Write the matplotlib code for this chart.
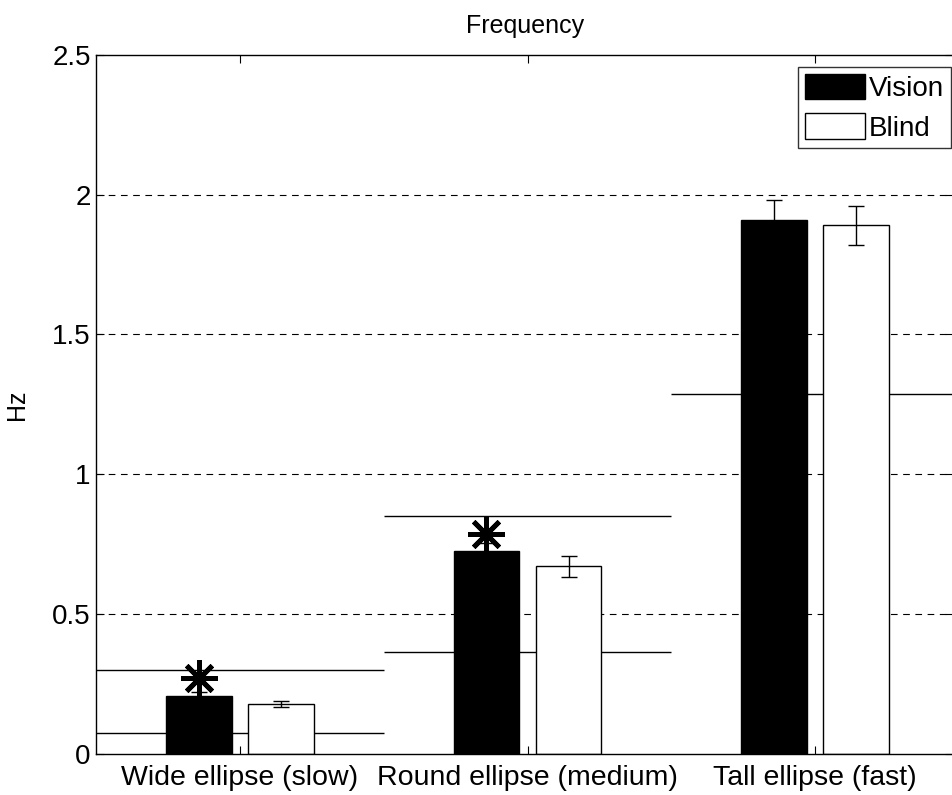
import numpy as np
import matplotlib.pyplot as plt

plt.rcParams['font.family'] = ['Liberation Sans', 'DejaVu Sans']

# data
conditions = ['Wide ellipse (slow)', 'Round ellipse (medium)', 'Tall ellipse (fast)']
vision = [0.205, 0.725, 1.91]
vision_err = [0.015, 0.03, 0.07]
blind = [0.178, 0.67, 1.89]
blind_err = [0.012, 0.037, 0.07]
# target frequency bands drawn across each group (lower, upper)
band_low = [0.075, 0.365, 1.285]
band_high = [0.30, 0.85, None]
signif_y = [0.27, 0.785, None]

x = np.arange(1, len(conditions) + 1)
w = 0.228
off = 0.143

fig = plt.figure(figsize=(9.53, 7.95), dpi=100)
ax = fig.add_axes([0.101, 0.052, 0.899, 0.879])

for v in [0.5, 1.0, 1.5, 2.0]:
    ax.axhline(v, color='black', lw=0.8, ls=(0, (6, 5)), zorder=0)

for i, xi in enumerate(x):
    ax.hlines(band_low[i], xi - 0.5, xi + 0.5, color='black', lw=1.0, zorder=0.5)
    if band_high[i] is not None:
        ax.hlines(band_high[i], xi - 0.5, xi + 0.5, color='black', lw=1.0, zorder=0.5)

ax.bar(x - off, vision, w, color='black', edgecolor='black', lw=1, label='Vision', zorder=2)
ax.bar(x + off, blind, w, color='white', edgecolor='black', lw=1, label='Blind', zorder=2)
ax.errorbar(x - off, vision, yerr=vision_err, fmt='none', ecolor='black',
            elinewidth=1, capsize=6, capthick=1, zorder=3)
ax.errorbar(x + off, blind, yerr=blind_err, fmt='none', ecolor='black',
            elinewidth=1, capsize=6, capthick=1, zorder=3)

for i, xi in enumerate(x):
    if signif_y[i] is not None:
        ax.plot(xi - off, signif_y[i], marker=(8, 2, 0), ms=26, mew=3.5,
                color='black', zorder=4)

ax.set_xlim(0.5, 3.48)
ax.set_ylim(0, 2.5)
ax.set_xticks(x)
ax.set_xticklabels(conditions, fontsize=20.5)
ax.set_yticks([0, 0.5, 1, 1.5, 2, 2.5])
ax.set_yticklabels(['0', '0.5', '1', '1.5', '2', '2.5'], fontsize=20)
ax.tick_params(direction='in', top=True, right=True, length=6, width=0.8)
ax.tick_params(axis='x', pad=8)
ax.tick_params(axis='y', pad=4)
ax.set_ylabel('Hz', fontsize=18)
ax.yaxis.set_label_coords(-0.079, 0.5)
ax.set_title('Frequency', fontsize=18, pad=16)
for s in ax.spines.values():
    s.set_linewidth(1.0)

leg = ax.legend(loc='upper right', bbox_to_anchor=(0.998, 0.983), fontsize=20,
                frameon=True, fancybox=False, edgecolor='black',
                handlelength=2.15, handleheight=1.05, handletextpad=0.15,
                borderpad=0.25, labelspacing=0.4, borderaxespad=0)
leg.get_frame().set_linewidth(1.0)

fig.savefig('out.png', dpi=100)
